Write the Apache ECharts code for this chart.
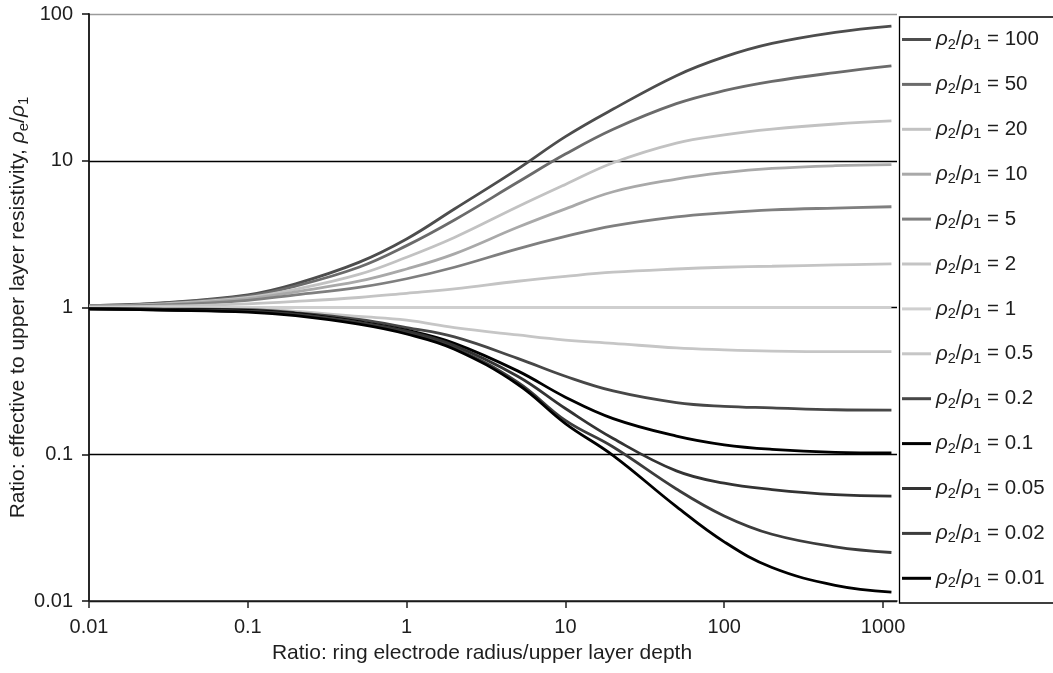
<!DOCTYPE html>
<html><head><meta charset="utf-8">
<script src="https://cdn.jsdelivr.net/npm/echarts@6/dist/echarts.min.js"></script>
<style>html,body{margin:0;padding:0;background:#fff}#c{width:1053px;height:673px}</style>
</head><body><div id="c"></div>
<script>
// x: ring electrode radius / upper layer depth
const xValues = [0.01, 0.03, 0.1, 0.2, 0.5, 1, 2, 5, 10, 20, 50, 100, 200, 500, 1130];
const ratioNames = ['100', '50', '20', '10', '5', '2', '1', '0.5', '0.2', '0.1', '0.05', '0.02', '0.01'];
// effective to upper layer resistivity ratio for each rho2/rho1
const r100 = [1.03, 1.08, 1.22, 1.45, 2.03, 2.93, 4.69, 8.77, 14.6, 22.5, 38.0, 51.0, 63.0, 75.0, 82.8];
const r50  = [1.03, 1.07, 1.20, 1.40, 1.88, 2.64, 3.95, 7.13, 11.1, 16.4, 24.5, 30.0, 34.7, 39.9, 44.3];
const r20  = [1.02, 1.06, 1.17, 1.33, 1.68, 2.20, 3.00, 4.86, 6.9, 9.7, 13.2, 15.0, 16.4, 17.8, 18.7];
const r10  = [1.02, 1.05, 1.15, 1.28, 1.51, 1.83, 2.32, 3.52, 4.7, 6.15, 7.5, 8.3, 8.86, 9.25, 9.4];
const r5   = [1.02, 1.04, 1.12, 1.22, 1.37, 1.57, 1.88, 2.51, 3.05, 3.6, 4.15, 4.42, 4.62, 4.76, 4.86];
const r2   = [1.01, 1.02, 1.06, 1.10, 1.17, 1.25, 1.34, 1.51, 1.63, 1.74, 1.83, 1.88, 1.91, 1.95, 1.98];
const r1   = [1, 1, 1, 1, 1, 1, 1, 1, 1, 1, 1, 1, 1, 1, 1];
const r05  = [0.99, 0.985, 0.98, 0.94, 0.87, 0.82, 0.73, 0.65, 0.60, 0.57, 0.53, 0.515, 0.505, 0.50, 0.50];
const r02  = [0.985, 0.975, 0.965, 0.92, 0.83, 0.73, 0.63, 0.45, 0.34, 0.27, 0.225, 0.212, 0.207, 0.201, 0.20];
const r01  = [0.98, 0.97, 0.955, 0.91, 0.80, 0.70, 0.57, 0.37, 0.245, 0.175, 0.133, 0.116, 0.108, 0.103, 0.102];
const r005 = [0.98, 0.965, 0.945, 0.90, 0.79, 0.69, 0.55, 0.34, 0.205, 0.128, 0.077, 0.0635, 0.0575, 0.053, 0.0518];
const r002 = [0.98, 0.96, 0.94, 0.89, 0.79, 0.67, 0.53, 0.31, 0.17, 0.112, 0.058, 0.038, 0.0285, 0.0234, 0.0214];
const r001 = [0.98, 0.96, 0.93, 0.88, 0.77, 0.66, 0.52, 0.30, 0.162, 0.098, 0.044, 0.0253, 0.0169, 0.0128, 0.0115];
const xTickValues = [0.01, 0.1, 1, 10, 100, 1000];

const seriesValues = [r100, r50, r20, r10, r5, r2, r1, r05, r02, r01, r005, r002, r001];
const seriesColors = ['#4d4d4d', '#6b6b6b', '#c2c2c2', '#a9a9a9', '#7f7f7f', '#c4c4c4', '#cfcfcf',
  '#c6c6c6', '#474747', '#000000', '#333333', '#3c3c3c', '#000000'];

const FONT = '"Liberation Sans", Arial, sans-serif';
const TXT = '#1e1e1e';
const chart = echarts.init(document.getElementById('c'), null, {renderer: 'canvas'});

const series = ratioNames.map((name, i) => ({
  name: name,
  type: 'line',
  smooth: 0.4,
  symbol: 'none',
  data: xValues.map((x, j) => [x, seriesValues[i][j]]),
  lineStyle: {color: seriesColors[i], width: 2.8},
  itemStyle: {color: seriesColors[i]},
  z: 3
}));

chart.setOption({
  animation: false,
  backgroundColor: '#fff',
  textStyle: {fontFamily: FONT},
  grid: {left: 89, right: 156, top: 14, bottom: 72, containLabel: false, outerBoundsMode: 'none'},
  xAxis: {
    type: 'log', logBase: 10, min: 0.01, max: 1225,
    name: 'Ratio: ring electrode radius/upper layer depth',
    nameLocation: 'middle', nameGap: 42, nameMoveOverlap: false,
    nameTextStyle: {fontSize: 21, color: TXT, fontFamily: FONT, verticalAlign: 'top', padding: [0, 22, 0, 0]},
    axisLine: {lineStyle: {color: '#222', width: 1.5}},
    axisTick: {show: true, length: 7, lineStyle: {color: '#222', width: 1.5}, customValues: xTickValues},
    axisLabel: {fontSize: 20, color: TXT, margin: 16, fontFamily: FONT, customValues: xTickValues,
      formatter: v => String(+v.toPrecision(3))},
    splitLine: {show: false}, minorTick: {show: false}
  },
  yAxis: {
    type: 'log', logBase: 10, min: 0.01, max: 100,
    name: 'Ratio: effective to upper layer resistivity, {i|ρ}{s|e}/{i|ρ}{s|1}',
    nameLocation: 'middle', nameGap: 58, nameMoveOverlap: false,
    nameTextStyle: {fontSize: 21, color: TXT, fontFamily: FONT,
      rich: {i: {fontSize: 21, fontStyle: 'italic', color: TXT, fontFamily: FONT},
             s: {fontSize: 15, color: TXT, fontFamily: FONT, padding: [10, 0, 0, 0]}}},
    axisLine: {lineStyle: {color: '#111', width: 1.8}},
    axisTick: {show: true, length: 7, lineStyle: {color: '#111', width: 1.5}},
    axisLabel: {fontSize: 20, color: TXT, margin: 16, fontFamily: FONT,
      formatter: v => String(+v.toPrecision(3))},
    splitLine: {show: true, lineStyle: {color: ['#000', '#000', '#000', '#000', '#9a9a9a'], width: 1.3}},
    minorTick: {show: false}
  },
  graphic: [{
    type: 'rect', left: 897, top: 14.5, z: 10,
    shape: {width: 155, height: 586},
    style: {fill: 'none', stroke: '#000', lineWidth: 1.3}
  }],
  legend: {
    orient: 'vertical', left: 897, top: 24,
    icon: 'rect', itemWidth: 29, itemHeight: 3, itemGap: 21.9,
    data: ratioNames,
    formatter: name => '{i|ρ}{s|2}{n|/}{i|ρ}{s|1}{n| = ' + name + '}',
    textStyle: {fontFamily: FONT, color: TXT, fontSize: 20,
      rich: {i: {fontSize: 20.5, fontStyle: 'italic', color: TXT, fontFamily: FONT},
             n: {fontSize: 20.5, color: TXT, fontFamily: FONT},
             s: {fontSize: 14.5, color: TXT, fontFamily: FONT, padding: [10, 0, 0, 0]}}}
  },
  series: series
});
</script></body></html>
